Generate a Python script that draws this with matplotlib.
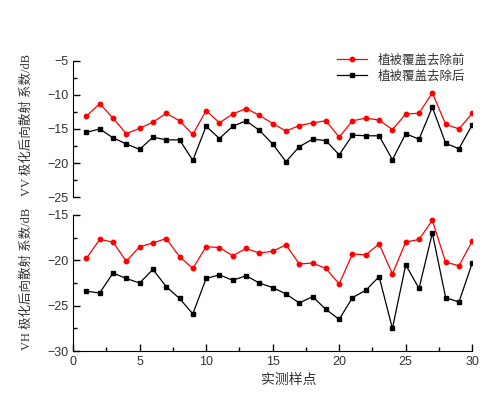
import matplotlib.pyplot as plt
from matplotlib.ticker import MultipleLocator

plt.rcParams['font.family'] = ['Liberation Sans', 'Noto Sans CJK SC']

samples = list(range(1, 31))

vv_before = [-13.1, -11.3, -13.4, -15.7, -14.9, -14.0, -12.7, -13.8, -15.8, -12.3,
             -14.1, -12.8, -12.0, -13.0, -14.2, -15.3, -14.5, -14.1, -13.8, -16.2,
             -13.8, -13.4, -13.7, -15.1, -12.8, -12.7, -9.7, -14.3, -15.0, -12.7]
vv_after = [-15.5, -15.0, -16.3, -17.2, -18.0, -16.2, -16.6, -16.6, -19.6, -14.6,
            -16.4, -14.6, -13.8, -15.2, -17.2, -19.8, -17.6, -16.5, -16.7, -18.8,
            -15.9, -16.0, -16.0, -19.5, -15.7, -16.5, -11.8, -17.1, -17.9, -14.4]

vh_before = [-19.8, -17.7, -18.0, -20.1, -18.5, -18.1, -17.6, -19.6, -20.9, -18.5,
             -18.6, -19.5, -18.7, -19.2, -19.0, -18.3, -20.4, -20.3, -20.9, -22.6,
             -19.3, -19.4, -18.2, -21.5, -18.0, -17.7, -15.6, -20.2, -20.6, -17.9]
vh_after = [-23.4, -23.6, -21.4, -22.0, -22.5, -21.0, -22.9, -24.2, -25.9, -22.0,
            -21.6, -22.2, -21.7, -22.5, -23.0, -23.7, -24.7, -24.0, -25.4, -26.5,
            -24.1, -23.3, -21.8, -27.5, -20.5, -23.1, -17.0, -24.1, -24.6, -20.3]

label_before = '植被覆盖去除前'
label_after = '植被覆盖去除后'

fig = plt.figure(figsize=(5.04, 3.95), dpi=100)
ax1 = fig.add_axes([0.145, 0.501, 0.792, 0.345])
ax2 = fig.add_axes([0.145, 0.111, 0.792, 0.345])

txt = '#333333'
serif = ['Liberation Serif', 'Noto Sans CJK SC']

for ax, before, after, ylim, ylab in [
        (ax1, vv_before, vv_after, (-25, -5), 'VV 极化后向散射 系数/dB'),
        (ax2, vh_before, vh_after, (-30, -15), 'VH 极化后向散射 系数/dB')]:
    ax.plot(samples, before, '-o', color='red', lw=0.9, ms=3.2, label=label_before)
    ax.plot(samples, after, '-s', color='black', lw=0.9, ms=3.0, label=label_after)
    ax.set_xlim(0, 30)
    ax.set_ylim(*ylim)
    ax.yaxis.set_major_locator(MultipleLocator(5))
    ax.yaxis.set_minor_locator(MultipleLocator(2.5))
    ax.xaxis.set_major_locator(MultipleLocator(5))
    ax.xaxis.set_minor_locator(MultipleLocator(2.5))
    ax.spines['top'].set_visible(False)
    ax.spines['right'].set_visible(False)
    ax.tick_params(direction='in', length=5, width=1, labelsize=9, labelcolor=txt)
    ax.tick_params(which='minor', direction='in', length=3, width=1)
    ax.set_ylabel(ylab, family=serif, fontsize=9, color=txt)
    ax.yaxis.set_label_coords(-0.10, 0.53)

ax1.spines['bottom'].set_visible(False)
ax1.tick_params(axis='x', which='both', bottom=False, labelbottom=False)
ax1.legend(loc='upper right', bbox_to_anchor=(1.0, 1.1), frameon=False, fontsize=9,
           labelcolor=txt, handlelength=2.4, borderaxespad=0.2, labelspacing=0.3)

ax2.set_xlabel('实测样点', fontsize=10, color=txt)
ax2.xaxis.set_label_coords(0.54, -0.16)

fig.savefig('out.png', dpi=100)
